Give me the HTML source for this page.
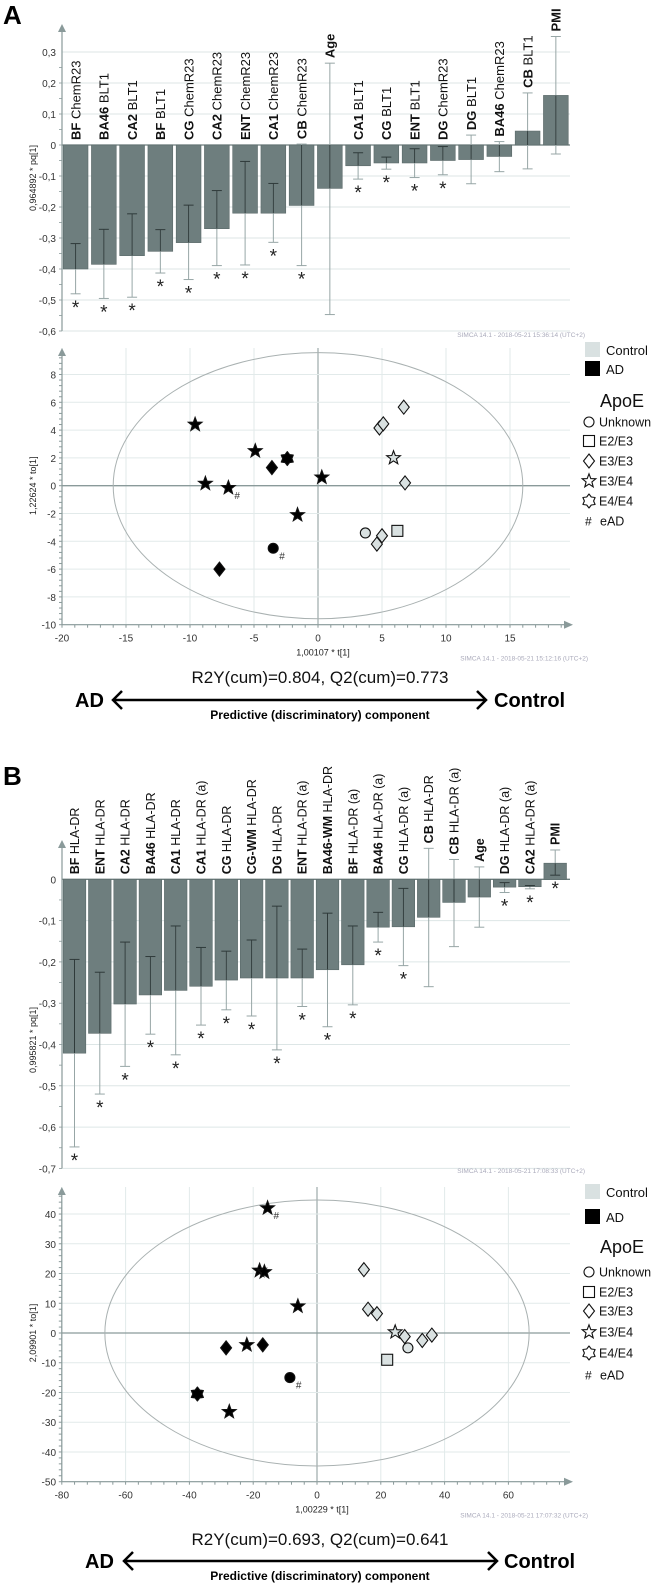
<!DOCTYPE html>
<html><head><meta charset="utf-8">
<style>
html,body{margin:0;padding:0;background:#fff;}
svg{display:block;font-family:"Liberation Sans",sans-serif;}
</style></head>
<body>
<svg id="fig" width="666" height="1587" viewBox="0 0 666 1587" xmlns="http://www.w3.org/2000/svg"></svg>
<script>
// ---------- Panel A bar chart data ----------
const labelsBoldA = ["BF","BA46","CA2","BF","CG","CA2","ENT","CA1","CB","Age","CA1","CG","ENT","DG","DG","BA46","CB","PMI"];
const labelsRestA = [" ChemR23"," BLT1"," BLT1"," BLT1"," ChemR23"," ChemR23"," ChemR23"," ChemR23"," ChemR23",""," BLT1"," BLT1"," BLT1"," ChemR23"," BLT1"," ChemR23"," BLT1",""];
const valuesA = [-0.40,-0.385,-0.357,-0.343,-0.315,-0.27,-0.22,-0.22,-0.195,-0.14,-0.067,-0.058,-0.058,-0.05,-0.047,-0.037,0.045,0.16];
const errHighA = [-0.318,-0.272,-0.222,-0.273,-0.194,-0.147,-0.053,-0.124,0.003,0.264,-0.025,-0.039,-0.012,-0.005,0.032,0.011,0.168,0.35];
const errLowA = [-0.48,-0.495,-0.491,-0.413,-0.434,-0.389,-0.387,-0.314,-0.389,-0.547,-0.11,-0.078,-0.105,-0.096,-0.125,-0.086,-0.077,-0.029];
const signifA = [1,1,1,1,1,1,1,1,1,0,1,1,1,1,0,0,0,0];
const ticksA = [0.3,0.2,0.1,0,-0.1,-0.2,-0.3,-0.4,-0.5,-0.6];

// ---------- Panel B bar chart data ----------
const labelsBoldB = ["BF","ENT","CA2","BA46","CA1","CA1","CG","CG-WM","DG","ENT","BA46-WM","BF","BA46","CG","CB","CB","Age","DG","CA2","PMI"];
const labelsRestB = [" HLA-DR"," HLA-DR"," HLA-DR"," HLA-DR"," HLA-DR"," HLA-DR (a)"," HLA-DR"," HLA-DR"," HLA-DR"," HLA-DR (a)"," HLA-DR"," HLA-DR (a)"," HLA-DR (a)"," HLA-DR (a)"," HLA-DR"," HLA-DR (a)",""," HLA-DR (a)"," HLA-DR (a)",""];
const valuesB = [-0.421,-0.373,-0.302,-0.28,-0.269,-0.259,-0.244,-0.239,-0.239,-0.239,-0.219,-0.207,-0.116,-0.115,-0.092,-0.056,-0.043,-0.019,-0.018,0.039];
const errHighB = [-0.194,-0.225,-0.152,-0.187,-0.113,-0.165,-0.174,-0.147,-0.065,-0.169,-0.082,-0.113,-0.08,-0.022,0.075,0.048,0.03,-0.008,-0.015,0.071];
const errLowB = [-0.648,-0.52,-0.453,-0.375,-0.425,-0.353,-0.316,-0.331,-0.413,-0.308,-0.357,-0.304,-0.152,-0.209,-0.26,-0.163,-0.116,-0.032,-0.023,0.01];
const signifB = [1,1,1,1,1,1,1,1,1,1,1,1,1,1,0,0,0,1,1,1];
const ticksB = [0,-0.1,-0.2,-0.3,-0.4,-0.5,-0.6,-0.7];

// ---------- Panel A score plot data ----------
const scoreAx = [-9.6,-4.9,-8.8,-7.0,0.3,-1.6,-3.6,-7.7,-2.4,-3.5,4.8,5.1,6.7,6.8,5.0,4.6,5.9,3.7,6.2];
const scoreAy = [4.4,2.5,0.15,-0.15,0.6,-2.1,1.3,-6.0,1.95,-4.5,4.15,4.45,5.65,0.2,-3.6,-4.2,2.0,-3.4,-3.25];
const scoreAgroup = ["AD","AD","AD","AD","AD","AD","AD","AD","AD","AD","C","C","C","C","C","C","C","C","C"];
const scoreAapoe = ["E3/E4","E3/E4","E3/E4","E3/E4","E3/E4","E3/E4","E3/E3","E3/E3","E4/E4","Unknown","E3/E3","E3/E3","E3/E3","E3/E3","E3/E3","E3/E3","E3/E4","Unknown","E2/E3"];
const scoreAearly = [0,0,0,1,0,0,0,0,0,1,0,0,0,0,0,0,0,0,0];
const xTicksScA = [-20,-15,-10,-5,0,5,10,15];
const yTicksScA = [8,6,4,2,0,-2,-4,-6,-8,-10];

// ---------- Panel B score plot data ----------
const scoreBx = [-15.5,-18,-16.5,-6,-22,-27.5,-28.5,-17,-37.5,-8.5,14.7,16,18.8,27.5,33,36,24.5,28.5,22];
const scoreBy = [42,21,20.5,9,-4,-26.5,-5,-4,-20.5,-15,21.3,8,6.5,-1.2,-2.5,-0.7,0.3,-5,-9];
const scoreBgroup = ["AD","AD","AD","AD","AD","AD","AD","AD","AD","AD","C","C","C","C","C","C","C","C","C"];
const scoreBapoe = ["E3/E4","E3/E4","E3/E4","E3/E4","E3/E4","E3/E4","E3/E3","E3/E3","E4/E4","Unknown","E3/E3","E3/E3","E3/E3","E3/E3","E3/E3","E3/E3","E3/E4","Unknown","E2/E3"];
const scoreBearly = [1,0,0,0,0,0,0,0,0,1,0,0,0,0,0,0,0,0,0];
const xTicksScB = [-80,-60,-40,-20,0,20,40,60];
const yTicksScB = [40,30,20,10,0,-10,-20,-30,-40,-50];

const NS = "http://www.w3.org/2000/svg";
const svg = document.getElementById("fig");
function mk(tag, attrs, parent){
  const e = document.createElementNS(NS, tag);
  for (const k in attrs) e.setAttribute(k, attrs[k]);
  (parent || svg).appendChild(e);
  return e;
}
function fmt(v){ return (Math.round(v*10)/10).toString().replace(".", ","); }

function panelLetter(txt, y){
  const t = mk("text", {x:3, y:y, "font-size":26, "font-weight":"bold", fill:"#000"});
  t.textContent = txt;
  
  
}

function barChart(cfg){
  const g = mk("g", {});
  
  
  const y = v => cfg.y0 - v*cfg.scale;
  cfg.ticks.forEach(tv => {
    const gl = mk("line", {x1:62, x2:570, y1:y(tv), y2:y(tv), stroke: tv===0 ? "#6e7e7e" : "#dde6e6", "stroke-width": tv===0?1.3:1}, g);
    
    
    const tl = mk("text", {x:56, y:y(tv)+4, "font-size":10, "text-anchor":"end", fill:"#333"}, g);
    tl.textContent = fmt(tv);
    
    
  });
  for (let v = cfg.ticks[cfg.ticks.length-1]; v < cfg.ticks[0]; v += 0.05){
    const mt = mk("line", {x1:59, x2:62, y1:y(v), y2:y(v), stroke:"#8a9a9a", "stroke-width":0.8}, g);
    
    
  }
  const bottom = y(cfg.ticks[cfg.ticks.length-1]);
  const ax = mk("line", {x1:62, x2:62, y1:bottom, y2:cfg.axisTop+6, stroke:"#8a9a9a", "stroke-width":1.2}, g);
  
  
  const ar = mk("polygon", {points:`58,${cfg.axisTop+8} 66,${cfg.axisTop+8} 62,${cfg.axisTop}`, fill:"#8a9a9a"}, g);
  
  
  const yt = mk("text", {x:0, y:0, "font-size":9, "text-anchor":"middle", fill:"#222", transform:`translate(36,${cfg.titleY}) rotate(-90)`}, g);
  yt.textContent = cfg.title;
  
  
  cfg.values.forEach((v, i) => {
    const x = cfg.left0 + i*cfg.pitch;
    const cx = x + cfg.bw/2;
    const top = Math.min(y(0), y(v)), h = Math.abs(y(v) - y(0));
    const b = mk("rect", {x:x, y:top, width:cfg.bw, height:h, fill:"#6e7e7e", stroke:"#5b6a6a", "stroke-width":0.6}, g);
    
    
    const hi = y(cfg.high[i]), lo = y(cfg.low[i]);
    const el = mk("line", {x1:cx, x2:cx, y1:hi, y2:lo, stroke:"#97a6a6", "stroke-width":1}, g);
    
    
    const i1 = Math.max(hi, top), i2 = Math.min(lo, top+h);
    if (i2 > i1){
      const ed = mk("line", {x1:cx, x2:cx, y1:i1, y2:i2, stroke:"#2f3a3a", "stroke-width":1}, g);
      
      
    }
    [hi, lo].forEach(yy => {
      const inside = yy > top && yy < top+h;
      const cap = mk("line", {x1:cx-5, x2:cx+5, y1:yy, y2:yy, stroke: inside ? "#2f3a3a" : "#97a6a6", "stroke-width":1}, g);
      
      
    });
    if (cfg.sig[i]){
      const s = mk("text", {x:cx, y:lo+20, "font-size":19, "text-anchor":"middle", fill:"#222"}, g);
      s.textContent = "*";
      
      
    }
    const lb = Math.min(y(0), hi, y(v)) - 5;
    const lab = mk("text", {x:0, y:0, "font-size":cfg.fs, fill:"#111", transform:`translate(${cx+cfg.fs*0.36},${lb}) rotate(-90)`}, g);
    const t1 = mk("tspan", {"font-weight":"bold"}, lab); t1.textContent = cfg.bold[i];
    const t2 = mk("tspan", {}, lab); t2.textContent = cfg.rest[i];
    
    
  });
  const sm = mk("text", {x:585, y:cfg.simcaY, "font-size":6.5, "text-anchor":"end", fill:"#aab"}, g);
  sm.textContent = cfg.simca;
  
  
}

function drawSymbol(g, type, x, y, fill){
  let e;
  const st = {fill:fill, stroke:"#111", "stroke-width":1.1};
  if (type === "Unknown"){
    e = mk("circle", Object.assign({cx:x, cy:y, r:5}, st), g);
  } else if (type === "E2/E3"){
    e = mk("rect", Object.assign({x:x-5.5, y:y-5.5, width:11, height:11}, st), g);
  } else if (type === "E3/E3"){
    e = mk("polygon", Object.assign({points:`${x},${y-7} ${x+5.5},${y} ${x},${y+7} ${x-5.5},${y}`}, st), g);
  } else if (type === "E3/E4"){
    let p = [];
    for (let k=0;k<10;k++){ const a = -Math.PI/2 + k*Math.PI/5; const r = k%2 ? 3 : 7.2; p.push((x+r*Math.cos(a)).toFixed(1)+","+(y+r*Math.sin(a)).toFixed(1)); }
    e = mk("polygon", Object.assign({points:p.join(" ")}, st), g);
  } else {
    let p = [];
    for (let k=0;k<12;k++){ const a = -Math.PI/2 + k*Math.PI/6; const r = k%2 ? 4.6 : 7; p.push((x+r*Math.cos(a)).toFixed(1)+","+(y+r*Math.sin(a)).toFixed(1)); }
    e = mk("polygon", Object.assign({points:p.join(" "), "stroke-linejoin":"round"}, st), g);
  }
  return e;
}

function scatter(cfg){
  const g = mk("g", {});
  
  
  const sx = u => cfg.x0 + u*cfg.kx, sy = v => cfg.y0 - v*cfg.ky;
  const yb = sy(cfg.yTicks[cfg.yTicks.length-1]);
  const xl = sx(cfg.xTicks[0]);
  cfg.xTicks.forEach(t => {
    const gl = mk("line", {x1:sx(t), x2:sx(t), y1:cfg.top, y2:yb, stroke: t===0 ? "#8a9a9a":"#e2eaea", "stroke-width":1}, g);
    
    
    const tl = mk("text", {x:sx(t), y:yb+17, "font-size":10, "text-anchor":"middle", fill:"#333"}, g);
    tl.textContent = t;
    
    
  });
  cfg.yTicks.forEach(t => {
    const gl = mk("line", {x1:xl, x2:570, y1:sy(t), y2:sy(t), stroke: t===0 ? "#8a9a9a":"#e2eaea", "stroke-width": t===0?1.3:1}, g);
    
    
    const tl = mk("text", {x:56, y:sy(t)+4, "font-size":10, "text-anchor":"end", fill:"#333"}, g);
    tl.textContent = t;
    
    
  });
  const xs = (cfg.xTicks[1]-cfg.xTicks[0])/5, ys = (cfg.yTicks[0]-cfg.yTicks[1])/5;
  for (let u = cfg.xTicks[0]; u <= cfg.xMax; u += xs){
    const m = mk("line", {x1:sx(u), x2:sx(u), y1:yb, y2:yb+3, stroke:"#8a9a9a"}, g);
    
    
  }
  for (let v = cfg.yTicks[cfg.yTicks.length-1]; v <= cfg.yMax; v += ys){
    const m = mk("line", {x1:xl-3, x2:xl, y1:sy(v), y2:sy(v), stroke:"#8a9a9a"}, g);
    
    
  }
  const ya = mk("line", {x1:xl, x2:xl, y1:yb, y2:cfg.top+6, stroke:"#8a9a9a", "stroke-width":1.2}, g);
  
  
  const yar = mk("polygon", {points:`${xl-4},${cfg.top+8} ${xl+4},${cfg.top+8} ${xl},${cfg.top}`, fill:"#8a9a9a"}, g);
  
  
  const xa = mk("line", {x1:xl, x2:566, y1:yb, y2:yb, stroke:"#8a9a9a", "stroke-width":1.2}, g);
  
  
  const xar = mk("polygon", {points:`${564},${yb-4} ${564},${yb+4} ${573},${yb}`, fill:"#8a9a9a"}, g);
  
  
  const el = mk("ellipse", {cx:sx(0), cy:sy(0), rx:cfg.erx*cfg.kx, ry:cfg.ery*cfg.ky, fill:"none", stroke:"#a9b1b1", "stroke-width":1}, g);
  
  
  const xt = mk("text", {x:sx(0)+5, y:yb+31, "font-size":9, "text-anchor":"middle", fill:"#222"}, g);
  xt.textContent = cfg.xTitle;
  
  
  const yt = mk("text", {x:0, y:0, "font-size":9, "text-anchor":"middle", fill:"#222", transform:`translate(36,${sy(0)}) rotate(-90)`}, g);
  yt.textContent = cfg.yTitle;
  
  
  cfg.px.forEach((u, i) => {
    const fill = cfg.grp[i] === "AD" ? "#000" : "#d9e1e1";
    const s = drawSymbol(g, cfg.apoe[i], sx(u), sy(cfg.py[i]), fill);
    
    
    if (cfg.early[i]){
      const h = mk("text", {x:sx(u)+6, y:sy(cfg.py[i])+11, "font-size":10, fill:"#333"}, g);
      h.textContent = "#";
      
      
    }
  });
  const sm = mk("text", {x:588, y:yb+36, "font-size":6.5, "text-anchor":"end", fill:"#aab"}, g);
  sm.textContent = cfg.simca;
  
  
  const r2 = mk("text", {x:320, y:cfg.statY, "font-size":17, "text-anchor":"middle", fill:"#111"}, g);
  r2.textContent = cfg.stats;
  
  
  const ay = cfg.arrowY;
  const adl = mk("text", {x:cfg.adX, y:ay+7, "font-size":20, "font-weight":"bold", fill:"#000"}, g);
  adl.textContent = "AD";
  
  
  const ctl = mk("text", {x:cfg.ctlX, y:ay+7, "font-size":20, "font-weight":"bold", fill:"#000"}, g);
  ctl.textContent = "Control";
  
  
  const ln = mk("path", {d:`M${cfg.arL},${ay} L${cfg.arR},${ay} M${cfg.arL+9},${ay-9} L${cfg.arL},${ay} L${cfg.arL+9},${ay+9} M${cfg.arR-9},${ay-9} L${cfg.arR},${ay} L${cfg.arR-9},${ay+9}`, fill:"none", stroke:"#000", "stroke-width":2.5}, g);
  
  
  const pc = mk("text", {x:320, y:ay+19, "font-size":12, "font-weight":"bold", "text-anchor":"middle", fill:"#000"}, g);
  pc.textContent = "Predictive (discriminatory) component";
  
  
  const L = cfg.leg;
  const lg = mk("g", {}, g);
  
  
  const c1 = mk("rect", {x:585, y:L[0]-8, width:15, height:15, fill:"#d9e1e1"}, lg);
  
  
  const c1t = mk("text", {x:606, y:L[0]+5, "font-size":13, fill:"#111"}, lg);
  c1t.textContent = "Control";
  
  
  const c2 = mk("rect", {x:585, y:L[1]-8, width:15, height:15, fill:"#000"}, lg);
  
  
  const c2t = mk("text", {x:606, y:L[1]+5, "font-size":13, fill:"#111"}, lg);
  c2t.textContent = "AD";
  
  
  const ap = mk("text", {x:600, y:L[2]+7, "font-size":18, fill:"#111"}, lg);
  ap.textContent = "ApoE";
  
  
  const types = ["Unknown","E2/E3","E3/E3","E3/E4","E4/E4"];
  types.forEach((t, k) => {
    const yy = L[3+k];
    const s = drawSymbol(lg, t, 589, yy, "#fff");
    
    
    const tx = mk("text", {x:599, y:yy+4.5, "font-size":12.5, fill:"#111"}, lg);
    tx.textContent = t;
    
    
  });
  const hs = mk("text", {x:585, y:L[8]+4.5, "font-size":12, fill:"#111"}, lg);
  hs.textContent = "#";
  
  
  const he = mk("text", {x:600, y:L[8]+4.5, "font-size":12.5, fill:"#111"}, lg);
  he.textContent = "eAD";
  
  
}

panelLetter("A", 24);
barChart({name:"loadings-chart-a", y0:145, scale:310, ticks:ticksA, axisTop:24, left0:63.2, pitch:28.25, bw:24.8, fs:13,
  values:valuesA, high:errHighA, low:errLowA, sig:signifA, bold:labelsBoldA, rest:labelsRestA,
  title:"0,964892 * pq[1]", titleY:178, simca:"SIMCA 14.1 - 2018-05-21 15:36:14 (UTC+2)", simcaY:337});
scatter({name:"score-plot-a", x0:318, kx:12.8, y0:485.7, ky:13.9, top:348, xTicks:xTicksScA, yTicks:yTicksScA, xMax:19, yMax:9.3,
  erx:16.0, ery:9.57, xTitle:"1,00107 * t[1]", yTitle:"1,22624 * to[1]",
  px:scoreAx, py:scoreAy, grp:scoreAgroup, apoe:scoreAapoe, early:scoreAearly,
  simca:"SIMCA 14.1 - 2018-05-21 15:12:16 (UTC+2)", stats:"R2Y(cum)=0.804, Q2(cum)=0.773", statY:683,
  arrowY:700, arL:113, arR:486, adX:75, ctlX:494, leg:[350,369,400,422,441,461,481,501,521]});

panelLetter("B", 785);
barChart({name:"loadings-chart-b", y0:879.3, scale:413, ticks:ticksB, axisTop:840, left0:63.2, pitch:25.3, bw:22.6, fs:12.5,
  values:valuesB, high:errHighB, low:errLowB, sig:signifB, bold:labelsBoldB, rest:labelsRestB,
  title:"0,995821 * pq[1]", titleY:1040, simca:"SIMCA 14.1 - 2018-05-21 17:08:33 (UTC+2)", simcaY:1173});
scatter({name:"score-plot-b", x0:317, kx:3.19, y0:1333, ky:2.974, top:1187, xTicks:xTicksScB, yTicks:yTicksScB, xMax:78, yMax:47,
  erx:66.5, ery:44.7, xTitle:"1,00229 * t[1]", yTitle:"2,09901 * to[1]",
  px:scoreBx, py:scoreBy, grp:scoreBgroup, apoe:scoreBapoe, early:scoreBearly,
  simca:"SIMCA 14.1 - 2018-05-21 17:07:32 (UTC+2)", stats:"R2Y(cum)=0.693, Q2(cum)=0.641", statY:1545,
  arrowY:1561, arL:124, arR:497, adX:85, ctlX:504, leg:[1192,1217,1246,1272,1292,1311,1332,1353,1375]});
</script>
</body></html>
